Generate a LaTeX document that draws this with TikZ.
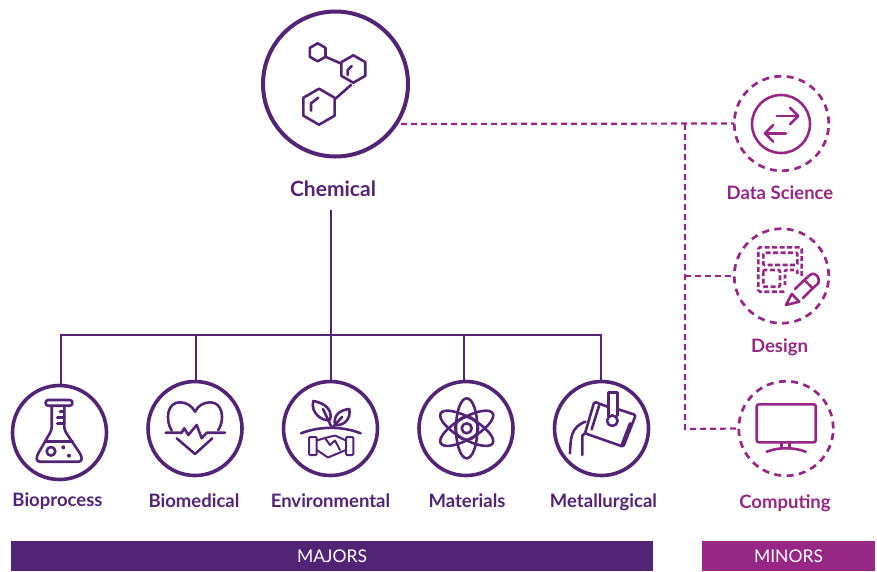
\documentclass[tikz,border=0pt]{standalone}
\usepackage{fontspec}
\setmainfont{Lato}
\definecolor{mjpurple}{RGB}{82,36,117}
\definecolor{mnmagenta}{RGB}{150,39,132}
\tikzset{
  majorcircle/.style={draw=mjpurple, line width=3.6pt, circle, inner sep=0pt, outer sep=0pt, minimum size=94pt},
  minorcircle/.style={draw=mnmagenta, line width=2.7pt, circle, dash pattern=on 7pt off 5.4pt, inner sep=0pt, outer sep=0pt, minimum size=94.5pt},
  majorlabel/.style={mjpurple, font=\fontsize{18.5}{20}\selectfont\bfseries, inner sep=0pt, anchor=base},
  minorlabel/.style={mnmagenta, font=\fontsize{18.5}{20}\selectfont\bfseries, inner sep=0pt, anchor=base},
  barlabel/.style={text=white, font=\fontsize{17.5}{20}\selectfont, inner sep=0pt, minimum height=29.5pt},
  treeline/.style={draw=mjpurple, line width=2pt},
  dashline/.style={draw=mnmagenta, line width=2.2pt, dash pattern=on 6pt off 4pt},
  majoricon/.style={draw=mjpurple, line width=2.6pt, line cap=round, line join=round},
  minoricon/.style={draw=mnmagenta, line width=2.6pt, line cap=round, line join=round}
}
\begin{document}
\begin{tikzpicture}[x=1pt, y=-1pt]
\useasboundingbox (0,0) rectangle (877,571);

% Circles
\node[majorcircle, line width=4pt, minimum size=145pt] (chemical) at (335.5, 84) {};
\node[majorcircle] (bioprocess) at (59.5, 432.5) {};
\node[majorcircle] (biomedical) at (195, 428.5) {};
\node[majorcircle] (environmental) at (330.5, 428.5) {};
\node[majorcircle] (materials) at (466, 428.5) {};
\node[majorcircle] (metallurgical) at (601.5, 428.5) {};
\node[minorcircle] (datascience) at (781.5, 123.5) {};
\node[minorcircle] (design) at (781.5, 276) {};
\node[minorcircle] (computing) at (786, 428.5) {};

% Labels
\node[majorlabel, font=\fontsize{21}{22}\selectfont\bfseries] (chemicaltext) at (333, 196) {Chemical};
\node[majorlabel] (bioprocesstext) at (57.5, 506.7) {Bioprocess};
\node[majorlabel] (biomedicaltext) at (194, 507) {Biomedical};
\node[majorlabel] (environmentaltext) at (330.5, 507.7) {Environmental};
\node[majorlabel] (materialstext) at (467, 507) {Materials};
\node[majorlabel] (metallurgicaltext) at (603.5, 507) {Metallurgical};
\node[minorlabel] (datasciencetext) at (780, 199) {Data Science};
\node[minorlabel] (designtext) at (779.5, 352.7) {Design};
\node[minorlabel] (computingtext) at (785, 508) {Computing};

% Bars
\node[barlabel, fill=mjpurple, minimum width=642pt] (majors) at (332, 556) {MAJORS};
\node[barlabel, fill=mnmagenta, minimum width=173pt] (minors) at (788.5, 556) {MINORS};

% Majors tree
\coordinate (trunk) at (331, 210);
\coordinate (busbio) at (61, 335);
\coordinate (busbiomed) at (195.7, 335);
\coordinate (busmat) at (464, 335);
\coordinate (busmet) at (600.7, 335);
\draw[treeline] (trunk) -- (trunk |- environmental.north);
\draw[treeline] (busbio |- bioprocess.north) -- (busbio) -- (busmet) -- (busmet |- metallurgical.north);
\draw[treeline] (busbiomed) -- (busbiomed |- biomedical.north);
\draw[treeline] (busmat) -- (busmat |- materials.north);

% Minors connectors
\coordinate (chemout) at (401, 124);
\coordinate (hubtop) at (685, 124);
\coordinate (hubmid) at (685, 276);
\coordinate (hubbot) at (685, 429);
\draw[dashline] (chemout) -- (datascience.west);
\draw[dashline] (hubtop) -- (hubbot) -- (computing.west);
\draw[dashline] (hubmid) -- (design.west);

% Chemical icon
\draw[majoricon] (317.7,43.3) -- (325.5,47.8) -- (325.5,56.8) -- (317.7,61.3) -- (309.9,56.8) -- (309.9,47.8) -- cycle;
\draw[majoricon] (353.3,55.3) -- (365.2,62.1) -- (365.2,75.9) -- (353.3,82.7) -- (341.4,75.9) -- (341.4,62.1) -- cycle;
\draw[majoricon] (319,88.7) -- (334.6,97.7) -- (334.6,115.7) -- (319,124.7) -- (303.4,115.7) -- (303.4,97.7) -- cycle;
\draw[majoricon] (325.3,56.7) -- (341,63.5);
\draw[majoricon] (351,85) -- (335,99);
\draw[majoricon] (347.7,75) -- (347.7,70) -- (351.7,66);
\draw[majoricon] (311,110.7) -- (311,103.3) -- (318.3,97.7);

% Bioprocess icon
\draw[majoricon, rounded corners=2.5pt] (45.7,400) rectangle (72.3,405.7);
\draw[majoricon, rounded corners=3pt] (51.7,405.7) -- (51.7,430) -- (36.7,456) -- (36.7,461.7) -- (81.7,461.7) -- (81.7,456) -- (64.3,430) -- (64.3,405.7);
\draw[majoricon] (45,441.7) -- (72.7,441.7);
\draw[majoricon] (60,411.7) -- (64.3,411.7);
\draw[majoricon] (57.3,417.7) -- (64.3,417.7);
\draw[majoricon] (57.3,423.3) -- (64.3,423.3);
\draw[majoricon] (51,451.3) circle (4.3);
\fill[mjpurple] (63.3,447.3) circle (2);
\fill[mjpurple] (69,455.7) circle (2);

% Biomedical icon
\draw[majoricon] (171.7,430.7) .. controls (165,420) and (167,402) .. (180,402.3) .. controls (187,402.5) and (192,406) .. (195,411.7) .. controls (198,406) and (203,402.5) .. (210,402.3) .. controls (223,402) and (225,420) .. (218.3,430);
\draw[majoricon] (176.7,438.3) -- (195,454) -- (212.3,438.3);
\draw[majoricon] (165.7,432.7) -- (181.7,432.7) -- (184.3,428.3) -- (188.3,435) -- (196.7,425) -- (201.7,438.3) -- (206.7,432.7) -- (225,432.7);

% Environmental icon
\draw[majoricon] (330,420) .. controls (322,422) and (310,412) .. (313.3,401) .. controls (325,403) and (333,410) .. (330,420) -- cycle;
\draw[majoricon] (335,425) .. controls (333,415) and (340,410) .. (349.3,409) .. controls (351,418) and (345,426) .. (335,425) -- cycle;
\draw[majoricon] (323,409) -- (331,426);
\draw[majoricon] (342,417) -- (333,427);
\draw[majoricon] (301,433.3) .. controls (320,426) and (342,426) .. (360.7,433.3);
\draw[majoricon, line width=2pt, rounded corners=1pt] (309,437) rectangle (316.7,455);
\draw[majoricon, line width=2pt, rounded corners=1pt] (346,437) rectangle (353.3,455);
\draw[majoricon, line width=2pt] (316.7,440.5) -- (325,438) -- (335,435.5) -- (346,440.5);
\draw[majoricon, line width=2pt] (316.7,450) -- (328,457.5) -- (346,450);
\draw[majoricon, line width=2pt] (325,438) -- (330,445) -- (335,440.5) -- (340,450);

% Materials icon
\draw[majoricon] (466.7,428.3) circle (5);
\draw[majoricon] (466.7,428.3) circle (11.5);
\draw[majoricon] (466.7,428.3) ellipse (10.7 and 30);
\draw[majoricon, rotate around={60:(466.7,428.3)}] (466.7,428.3) ellipse (10.7 and 30);
\draw[majoricon, rotate around={-60:(466.7,428.3)}] (466.7,428.3) ellipse (10.7 and 30);

% Metallurgical icon
\draw[majoricon, rounded corners=1.5pt] (608.3,407) -- (594.3,401.7) -- (585,433.3) -- (623.3,446.7) -- (635.7,415) -- (617.3,409);
\draw[majoricon] (599.3,405) -- (591.7,429.3);
\draw[majoricon] (630,423.3) -- (621.7,445);
\draw[majoricon] (608.3,415.5) -- (608.3,392.7) -- (617.3,392.7) -- (617.3,415.5);
\draw[majoricon] (612.3,420.7) circle (5.3);
\draw[majoricon] (570,453.3) .. controls (570.5,438) and (571,427) .. (585.5,421.7);
\draw[majoricon] (582.3,455) -- (582.3,435.5) -- (585,433.3);

% Data Science icon
\draw[minoricon] (781,124) circle (29);
\draw[minoricon] (776.7,116) -- (798.3,116);
\draw[minoricon] (790,107.7) -- (798.3,116) -- (790,124.3);
\draw[minoricon] (786,133.3) -- (765,133.3);
\draw[minoricon] (773.3,125) -- (765,133.3) -- (773.3,141.7);

% Design icon
\draw[minoricon, line cap=butt, rounded corners=1.5pt, dash pattern=on 5pt off 2.5pt] (801.7,276) -- (801.7,247.3) -- (758.3,247.3) -- (758.3,291.7) -- (786,291.7);
\draw[minoricon, line cap=butt, rounded corners=1pt, dash pattern=on 5pt off 2.5pt] (763.3,252.7) rectangle (797.3,265);
\draw[minoricon, line cap=butt, rounded corners=1pt, dash pattern=on 5pt off 2.5pt] (763.3,270) rectangle (780,286.7);
\draw[minoricon, line cap=butt, rounded corners=1pt, dash pattern=on 4pt off 2.5pt] (785,285) -- (785,270) -- (797.3,270) -- (797.3,275);
\draw[minoricon] (804.3,280) -- (810,275) .. controls (815,271) and (821,278) .. (818.3,283.3) -- (812.7,288.3) -- cycle;
\draw[minoricon] (795,289) -- (804.3,280);
\draw[minoricon] (803,298) -- (812.7,288.3);
\draw[minoricon] (791.7,294) -- (786,305) -- (799.3,301.7) -- cycle;

% Computing icon
\draw[minoricon, rounded corners=2pt] (756.7,404.3) rectangle (815.7,442.3);
\draw[minoricon] (781.7,442.3) -- (781.7,448.3);
\draw[minoricon] (789.3,442.3) -- (789.3,448.3);
\draw[minoricon] (766.7,451.7) .. controls (779,447) and (793,447) .. (805.7,451.7);
\end{tikzpicture}
\end{document}
